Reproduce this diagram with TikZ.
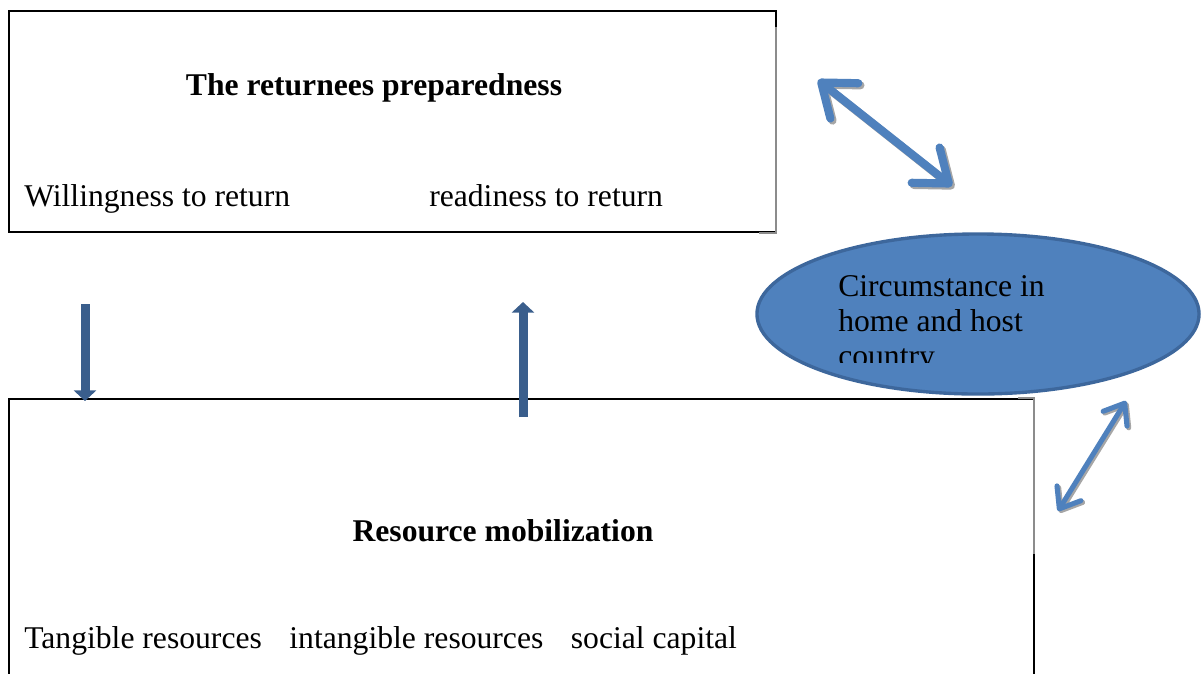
\documentclass[tikz,border=0pt]{standalone}
\usepackage{fontspec}
\setmainfont{Liberation Serif}
\usetikzlibrary{positioning, arrows.meta, shapes.geometric, fit}
\definecolor{accentblue}{HTML}{4F81BD}
\definecolor{accentline}{HTML}{3D679C}
\definecolor{accentdark}{HTML}{3A5E8C}
\tikzset{
  frame/.style={draw=black, line width=0.75pt, inner sep=0pt},
  edgeshade/.style={draw=black!45, line width=1.3pt},
  txt/.style={anchor=base west, inner sep=0pt, font=\fontsize{22.5}{24.8}\selectfont},
  head/.style={txt, anchor=base, font=\fontsize{22.5}{24.8}\selectfont\bfseries},
  blockarrow/.style={draw=accentdark, line width=6.4pt, -{Triangle[width=15.6pt, length=7.5pt]}},
  twoway/.style={draw=accentblue, {Straight Barb[round]}-{Straight Barb[round]}},
  twowayshadow/.style={twoway, draw=black!35},
}

\begin{document}
\begin{tikzpicture}[x=0.025cm, y=-0.025cm]
    \useasboundingbox (0,0) rectangle (1204,673);

    % the two boxes
    \node[frame, fit={(9,11) (776,232)}] (prep) {};
    \draw[edgeshade] (776,27) -- (776,233) -- (759,233);
    \node[frame, fit={(9,399) (1034,700)}] (mobil) {};
    \draw[edgeshade] (1018,398) -- (1034,398) -- (1034,554);

    \node[head] (prephead) at (374,95) {The returnees preparedness};
    \node[txt] (willing) at (24,206) {Willingness to return};
    \node[txt] (ready) at (429,206) {readiness to return};

    \node[head] (mobilhead) at (503,541) {Resource mobilization};
    \node[txt] (resources) at (24,648) {Tangible resources\hspace{0.62em} intangible resources\hspace{0.62em} social capital};

    % circumstances
    \node[ellipse, fill=accentblue, draw=accentline, line width=2.4pt,
          minimum width=11.05cm, minimum height=4cm, inner sep=0pt] (circ) at (978,314) {};
    \begin{scope}
      \clip (825,255) rectangle (1100,362);
      \node[txt, align=left] (circtxt) at (838,366) {Circumstance in\\home and host\\country};
    \end{scope}

    % links between the boxes
    \coordinate (downA) at (85,304);
    \coordinate (downB) at (85,401);
    \coordinate (upA) at (523,417);
    \coordinate (upB) at (523,302);
    \draw[blockarrow] (downA) -- (downB);
    \draw[blockarrow] (upA) -- (upB);

    \coordinate (topA) at (818,80);
    \coordinate (topB) at (952,186);
    \draw[twowayshadow, line width=5.8pt,
          arrows={{Straight Barb[round, length=21pt, width=32pt]}-{Straight Barb[round, length=21pt, width=32pt]}},
          transform canvas={xshift=1.5pt, yshift=-1.5pt}] (topA) -- (topB);
    \draw[twoway, line width=5.8pt,
          arrows={{Straight Barb[round, length=21pt, width=32pt]}-{Straight Barb[round, length=21pt, width=32pt]}}] (topA) -- (topB);

    \coordinate (lowA) at (1126,401);
    \coordinate (lowB) at (1058,511);
    \draw[twowayshadow, line width=3.6pt,
          arrows={{Straight Barb[round, length=13pt, width=20pt]}-{Straight Barb[round, length=13pt, width=20pt]}},
          transform canvas={xshift=1.2pt, yshift=-1.2pt}] (lowA) -- (lowB);
    \draw[twoway, line width=3.6pt,
          arrows={{Straight Barb[round, length=13pt, width=20pt]}-{Straight Barb[round, length=13pt, width=20pt]}}] (lowA) -- (lowB);
\end{tikzpicture}
\end{document}
